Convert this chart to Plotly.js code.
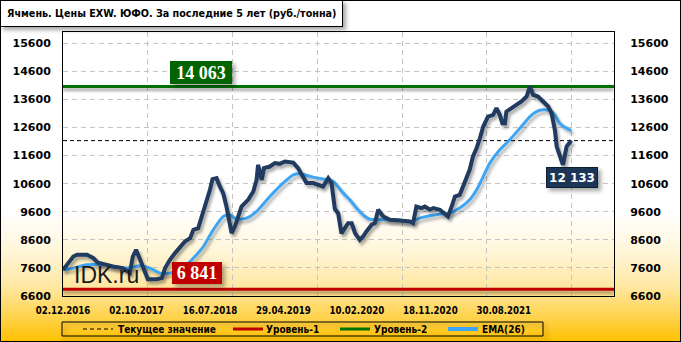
<!DOCTYPE html>
<html>
<head>
<meta charset="utf-8">
<script src="https://cdn.plot.ly/plotly-3.0.1.min.js"></script>
<style>
html,body{margin:0;padding:0;background:#fff;}
#wrap{position:relative;width:681px;height:342px;overflow:hidden;
background:linear-gradient(to bottom,#ffffff 0%,#ffffff 62%,#fff5d6 74%,#ffe7a0 84%,#ffd24a 93%,#ffc000 100%);}
#wrap::after{content:'';position:absolute;left:0;top:0;right:0;bottom:0;border:1px solid #000;pointer-events:none;}
#chart{position:absolute;left:0;top:0;}
.traceprice path.js-line{filter:drop-shadow(2px 3px 1.5px rgba(0,0,0,0.35));}
.traceema path.js-line{filter:drop-shadow(2px 3px 1.5px rgba(0,0,0,0.3));}
.tracelvl1 path.js-line,.tracelvl2 path.js-line{filter:drop-shadow(0px 3px 1.5px rgba(0,0,0,0.35));}
.shapelayer path[data-index="0"]{filter:drop-shadow(3px 3px 2px rgba(0,0,0,0.3));}
.annotation rect.bg{filter:drop-shadow(3px 3px 2px rgba(0,0,0,0.35));}
</style>
</head>
<body>
<div id="wrap"><div id="chart"></div></div>
<script>
// ---- data (x = observation index; a date label every 20 observations) ----
const tickIdx    = [0, 20, 40, 60, 80, 100, 120];
const tickLabels = ['02.12.2016','02.10.2017','16.07.2018','29.04.2019','10.02.2020','18.11.2020','30.08.2021'];

const priceX = [0,2.8,3.8,6.5,8.2,9.5,12.0,13.6,16.3,18.2,19.0,19.9,21.0,22.3,23.1,25.5,26.9,27.8,29.1,30.5,
  31.8,33.2,34.6,35.5,36.8,37.7,39.1,40.0,40.7,41.8,42.7,43.6,44.5,45.0,45.9,46.8,47.7,48.6,49.5,50.4,
  51.8,52.7,53.1,54.1,54.7,56.3,57.7,59.0,60.4,62.7,64.0,65.4,66.3,68.1,70.8,72.2,73.1,74.0,74.9,75.8,
  77.6,78.6,79.5,80.8,81.7,82.6,84.0,84.9,85.8,87.2,89.0,91.7,94.4,95.3,96.2,97.6,98.5,99.9,100.8,102.6,
  104.8,105.8,106.7,108.0,108.9,109.8,110.7,111.6,112.6,113.5,114.4,115.7,117.1,118.0,118.9,119.6,120.3,120.7,122.1,123.5,
  124.8,126.2,127.1,128.0,129.3,130.7,132.1,133.0,133.9,134.4,135.2,136.1,137.1,138.0,138.4];
const priceY = [7530,8006,8067,8067,7960,7790,7710,7650,7593,7425,8006,8245,7890,7425,7200,7200,7237,7593,7890,8127,
  8305,8540,8660,8957,9016,9373,9964,10381,10761,10797,10500,10263,9786,9430,8840,9075,9430,9786,9905,10025,
  10320,10737,11270,10737,11153,11210,11331,11306,11388,11350,11153,10855,10620,10620,10500,10797,10620,9700,9550,8830,
  9193,9193,8840,8600,8718,8896,9135,9193,9670,9430,9313,9290,9250,9193,9786,9730,9786,9670,9730,9670,
  9430,9786,10143,10203,10500,10737,11093,11567,11865,12221,12634,12990,13050,13289,13050,12755,12755,13168,13289,13407,
  13524,13702,14058,13763,13702,13524,13346,13110,12517,11923,11567,11270,11923,12100,12133];

const emaX = [0,2.8,6.4,10.9,13.6,17.3,21.0,23.7,26.4,29.1,32.7,35.5,38.2,40.9,43.6,45.4,47.3,50.0,52.7,56.3,
  59.9,62.7,64.5,68.1,71.8,73.6,76.3,78.1,79.9,81.7,83.5,86.3,90.8,94.9,97.1,99.9,102.6,105.3,108.0,110.7,
  112.6,114.4,116.2,118.9,121.6,124.4,127.1,128.9,130.7,132.5,133.9,135.2,137.1,138.4];
const emaY = [7533,7593,7710,7710,7650,7593,7675,7593,7415,7415,7593,7950,8360,8957,9430,9490,9338,9373,9610,10143,
  10620,10915,10950,10833,10737,10677,10263,10025,9730,9490,9338,9313,9313,9250,9373,9455,9515,9550,9730,10025,
  10381,10855,11331,11805,12161,12577,12990,13168,13230,13205,13050,12755,12577,12490];

const currentValue = 12133;
const level1 = 6841;
const level2 = 14063;
const xSpan = [0, 150];
const yTicks0 = 6600, yStep = 1000, yMax = 16000;

const legendNames = ['Текущее значение','Уровень-1','Уровень-2','EMA(26)'];
const titleText = 'Ячмень. Цены EXW. ЮФО. За последние 5 лет (руб./тонна)';

// ---- styling ----
const BOLD = '"DejaVu Sans", Verdana, sans-serif';
const COND = '"DejaVu Sans Condensed", "DejaVu Sans", sans-serif';
const SERIF = '"Liberation Serif", "Times New Roman", serif';
const seriesStyle = [
  {color: '#000', width: 1, dash: '4px,3px'},
  {color: '#C00000', width: 3},
  {color: '#007000', width: 3},
  {color: '#3DA5F4', width: 3, shape: 'spline', smoothing: 0.6}
];

const fmt = v => String(v).replace(/\B(?=(\d{3})+(?!\d))/g, ' ');

const traces = [
  {x: xSpan, y: [currentValue, currentValue], mode: 'lines', name: legendNames[0], uid: 'cur',
   line: seriesStyle[0], hoverinfo: 'skip', showlegend: false},
  {x: xSpan, y: [level1, level1], mode: 'lines', name: legendNames[1], uid: 'lvl1',
   line: seriesStyle[1], hoverinfo: 'skip', showlegend: false},
  {x: xSpan, y: [level2, level2], mode: 'lines', name: legendNames[2], uid: 'lvl2',
   line: seriesStyle[2], hoverinfo: 'skip', showlegend: false},
  {x: emaX, y: emaY, mode: 'lines', name: legendNames[3], uid: 'ema',
   line: seriesStyle[3], hoverinfo: 'skip', showlegend: false},
  {x: priceX, y: priceY, mode: 'lines', name: 'Цена', uid: 'price', showlegend: false,
   line: {color: '#203A60', width: 4, shape: 'linear'}, hoverinfo: 'skip'},
  {x: [], y: [], xaxis: 'x2', yaxis: 'y', showlegend: false, hoverinfo: 'skip', mode: 'lines'},
  {x: [], y: [], xaxis: 'x', yaxis: 'y2', showlegend: false, hoverinfo: 'skip', mode: 'lines'}
];

// ---- hand-drawn legend (box + line samples + labels), placed in pixels ----
const PL = 63, PW = 551, PB = 296, PH = 264;
const px2x = p => (p - PL) / PW;
const px2y = p => (PB - p) / PH;
const legY = 329;
const legSampleX = [83, 233, 340, 448];
const legTextX = [117, 265, 373, 481];
const shapes = [
  {type: 'rect', xref: 'paper', yref: 'paper', x0: px2x(62), x1: px2x(543), y0: px2y(322), y1: px2y(336),
   line: {color: '#000', width: 1}, fillcolor: 'rgba(0,0,0,0)', layer: 'above'}
];
const legendAnn = [];
legendNames.forEach((n, i) => {
  const st = seriesStyle[i];
  shapes.push({type: 'line', xref: 'paper', yref: 'paper', x0: px2x(legSampleX[i]), x1: px2x(legSampleX[i] + 30),
    y0: px2y(legY), y1: px2y(legY), line: {color: st.color, width: i === 3 ? 4 : st.width, dash: st.dash || 'solid'}});
  legendAnn.push({xref: 'paper', yref: 'paper', x: px2x(legTextX[i]), y: px2y(legY), xanchor: 'left', yanchor: 'middle',
    showarrow: false, text: n, borderpad: 0, font: {family: COND, size: 10, color: '#000', weight: 'bold'}});
});

const tickFont = {family: BOLD, size: 11, color: '#000', weight: 'bold'};
const yCommon = {range: [yTicks0, yMax], tick0: yTicks0, dtick: yStep, zeroline: false, tickformat: 'd',
  ticks: 'outside', tickcolor: 'rgba(0,0,0,0)', tickfont: tickFont, fixedrange: true, automargin: false};

const layout = {
  width: 681, height: 342,
  margin: {l: PL, r: 681 - PL - PW, t: 32, b: 342 - PB, pad: 0, autoexpand: false},
  paper_bgcolor: 'rgba(0,0,0,0)', plot_bgcolor: 'rgba(0,0,0,0)',
  showlegend: false,
  xaxis: {range: xSpan, tickmode: 'array', tickvals: tickIdx, ticktext: tickLabels,
    showgrid: false, zeroline: false, showline: true, mirror: true, linecolor: '#000', linewidth: 1,
    ticks: 'outside', ticklen: 5, tickcolor: 'rgba(0,0,0,0)', automargin: false,
    tickfont: {family: COND, size: 9.6, color: '#000', weight: 'bold'}, fixedrange: true},
  xaxis2: {overlaying: 'x', range: [0, 6.5], tick0: 0, dtick: 1, showgrid: true,
    gridcolor: '#C4C4C4', griddash: '5px,4px', gridwidth: 1, showticklabels: false,
    zeroline: false, side: 'top', ticks: '', showline: false, fixedrange: true},
  yaxis: Object.assign({}, yCommon, {showgrid: true, gridcolor: '#C4C4C4', griddash: '5px,4px',
    showline: true, mirror: true, linecolor: '#000', linewidth: 1, ticklen: 9}),
  yaxis2: Object.assign({}, yCommon, {overlaying: 'y', side: 'right', showgrid: false, ticklen: 13, showline: false}),
  shapes: shapes,
  annotations: [
    {xref: 'paper', yref: 'paper', x: px2x(0), y: px2y(0), xanchor: 'left', yanchor: 'top',
     text: titleText, showarrow: false,
     font: {family: COND, size: 10.7, color: '#000', weight: 'bold'}, align: 'left',
     borderpad: 6, bordercolor: '#000', borderwidth: 1, bgcolor: '#fff'},
    {xref: 'x', yref: 'y', x: 37.5, y: level2, yanchor: 'bottom', yshift: 2, showarrow: false,
     text: '<b>' + fmt(level2) + '</b>', font: {family: SERIF, size: 18, color: '#fff'},
     bgcolor: '#006400', width: 60, height: 21, borderpad: 0, borderwidth: 1, bordercolor: '#006400'},
    {xref: 'x', yref: 'y', x: 36.5, y: level1, yanchor: 'bottom', yshift: 5, showarrow: false,
     text: '<b>' + fmt(level1) + '</b>', font: {family: SERIF, size: 18, color: '#fff'},
     bgcolor: '#C00000', width: 48, height: 20, borderpad: 0, borderwidth: 1, bordercolor: '#C00000'},
    {xref: 'x', yref: 'y', x: priceX[priceX.length - 1], xshift: 1, y: currentValue, yanchor: 'top', yshift: -26, showarrow: false,
     text: fmt(currentValue), font: {family: BOLD, size: 12, color: '#fff', weight: 'bold'},
     bgcolor: '#1C3658', width: 50, height: 19, borderpad: 0, borderwidth: 1, bordercolor: '#0E1E33'},
    {xref: 'paper', yref: 'y', x: px2x(73), y: 7355, xanchor: 'left', yanchor: 'middle', showarrow: false, borderpad: 0,
     text: 'IDK.ru', font: {family: '"Liberation Sans", Arial, sans-serif', size: 23, color: '#1a1a1a'}}
  ].concat(legendAnn)
};

Plotly.newPlot('chart', traces, layout, {staticPlot: true, displayModeBar: false});
</script>
</body>
</html>
